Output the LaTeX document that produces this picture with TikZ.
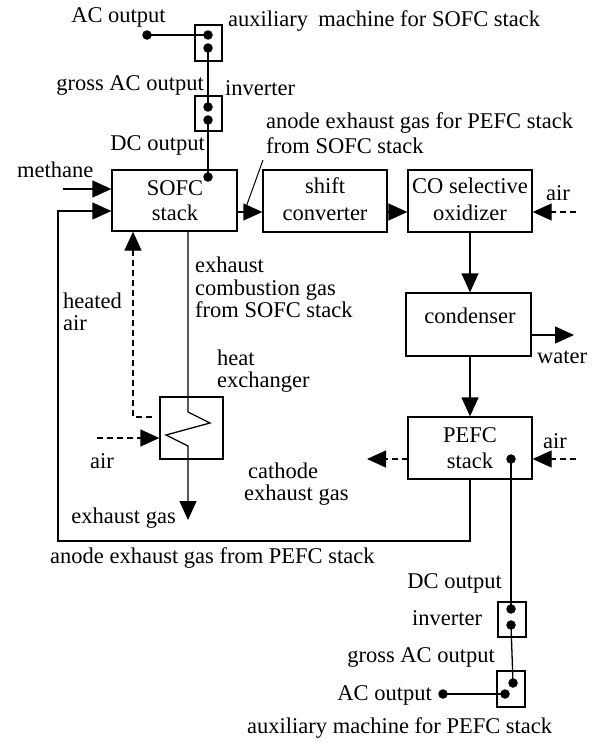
\documentclass[tikz,border=0pt]{standalone}
\usepackage{fontspec}
\setmainfont{Liberation Serif}
\usetikzlibrary{arrows.meta,calc}
\begin{document}
\begin{tikzpicture}[x=1pt,y=-1pt,font=\fontsize{22.5}{22.5}\selectfont]
\tikzset{
 box/.style={draw,line width=1.3pt,inner sep=0pt},
 lbl/.style={inner sep=0pt,anchor=base west},
 lblr/.style={inner sep=0pt,anchor=base east},
 lblc/.style={inner sep=0pt,anchor=base},
 dot/.style={circle,fill,inner sep=0pt,minimum size=9.5pt},
 wire/.style={line width=1.3pt},
 flow/.style={line width=1.3pt,-{Triangle[length=19pt,width=17pt]}},
 dflow/.style={flow,dash pattern=on 6pt off 4pt},
}
\useasboundingbox (0,0) rectangle (599,744);

% boxes
\node[box,minimum width=125pt,minimum height=61pt] (sofc) at (174.5,200.5) {};
\node[box,minimum width=124pt,minimum height=62pt] (shift) at (325,201) {};
\node[box,minimum width=124pt,minimum height=62pt] (co) at (470,201) {};
\node[box,minimum width=125pt,minimum height=63pt] (cond) at (468.5,324.5) {};
\node[box,minimum width=124pt,minimum height=62pt] (pefc) at (470,448) {};
\node[box,minimum width=63pt,minimum height=62pt] (hx) at (191.5,428) {};
\node[box,minimum width=27pt,minimum height=36pt] (aux1) at (208.5,43) {};
\node[box,minimum width=27pt,minimum height=35pt] (inv1) at (208.5,113.5) {};
\node[box,minimum width=28pt,minimum height=35pt] (inv2) at (512,619.5) {};
\node[box,minimum width=28pt,minimum height=36pt] (aux2) at (511,689) {};

% box texts
\node[lblc] (t_sofc1) at (175,195) {SOFC};
\node[lblc] (t_sofc2) at (175,220) {stack};
\node[lblc] (t_shift1) at (325,193) {shift};
\node[lblc] (t_shift2) at (325,220) {converter};
\node[lblc] (t_co1) at (470,193) {CO selective};
\node[lblc] (t_co2) at (470,220) {oxidizer};
\node[lblc] (t_cond) at (470,323) {condenser};
\node[lblc] (t_pefc1) at (470,442) {PEFC};
\node[lblc] (t_pefc2) at (470,468) {stack};

% dots
\node[dot] (acdot1) at (147,35) {};
\node[dot] (aux1a) at (208,35) {};
\node[dot] (aux1b) at (208,48) {};
\node[dot] (inv1a) at (208,107) {};
\node[dot] (inv1b) at (208,120) {};
\node[dot] (sofcdot) at (208,177) {};
\node[dot] (pefcdot) at (511,459) {};
\node[dot] (inv2a) at (511,609) {};
\node[dot] (inv2b) at (511,625) {};
\node[dot] (aux2a) at (513,683) {};
\node[dot] (aux2b) at (505,694) {};
\node[dot] (acdot2) at (443,694) {};

% electrical wires
\draw[wire] (acdot1.center) -- (aux1a.center);
\draw[wire] (aux1b.center) -- (inv1a.center);
\draw[wire] (inv1b.center) -- (sofcdot.center);
\draw[wire] (pefcdot.center) -- (inv2a.center);
\draw[wire] (inv2b.center) -- (aux2a.center);
\draw[wire] (acdot2.center) -- (aux2b.center);

% gas flows
\coordinate (meth0) at (63,189);
\draw[flow] (meth0) -- (meth0 -| sofc.west);
\coordinate (loopb) at (58,541);
\coordinate (loopin) at (58,211);
\draw[flow] (pefc.south) |- (loopb) -- (loopin) -- (loopin -| sofc.west);
\coordinate (s2s) at (237,212);
\draw[flow] (s2s) -- (s2s -| shift.west);
\coordinate (s2c) at (387,212);
\draw[flow] (s2c) -- (s2c -| co.west);
\coordinate (coair) at (576,212);
\draw[dflow] (coair) -- (coair -| co.east);
\draw[flow] (co.south) -- (co.south |- cond.north);
\coordinate (wat0) at (531,335);
\coordinate (wat1) at (574,335);
\draw[flow] (wat0) -- (wat1);
\draw[flow] (cond.south -| co.south) -- (pefc.north);
\coordinate (pair) at (576,459);
\draw[dflow] (pair) -- (pair -| pefc.east);
\coordinate (pcat0) at (408,459);
\coordinate (pcat1) at (367,459);
\draw[dflow] (pcat0) -- (pcat1);

% heat exchanger
\coordinate (ex0) at (188,231);
\coordinate (ex1) at (188,412);
\coordinate (ex2) at (210,423);
\coordinate (ex3) at (166,435);
\coordinate (ex4) at (188,446);
\coordinate (ex5) at (188,520);
\draw[flow] (ex0) -- (ex1) -- (ex2) -- (ex3) -- (ex4) -- (ex5);
\coordinate (ha0) at (152,417);
\coordinate (ha1) at (133,417);
\draw[dflow] (ha0) -- (ha1) -- (ha1 |- sofc.south);
\coordinate (hxair) at (97,438);
\draw[dflow] (hxair) -- (hxair -| hx.west);

% leader
\coordinate (ld0) at (245,210);
\coordinate (ld1) at (263,160);
\draw[line width=1pt] (ld0) -- (ld1);

% labels
\node[lblc] (l_ac1) at (118.5,23) {AC output};
\node[lbl] (l_aux1) at (228,26) {auxiliary\hspace{0.45em}machine for SOFC stack};
\node[lblr] (l_gross1) at (204,90) {gross AC output};
\node[lbl] (l_inv1) at (225,95) {inverter};
\node[lblr] (l_dc1) at (205,150) {DC output};
\node[lbl] (l_meth) at (17,177) {methane};
\node[lbl] (l_an1) at (266,128) {anode exhaust gas for PEFC stack};
\node[lbl] (l_an2) at (266,153) {from SOFC stack};
\node[lblc] (l_coair) at (558,200) {air};
\node[lbl] (l_ex1) at (195,272) {exhaust};
\node[lbl] (l_ex2) at (195,295) {combustion gas};
\node[lbl] (l_ex3) at (195,317) {from SOFC stack};
\node[lbl] (l_ha1) at (63,308) {heated};
\node[lbl] (l_ha2) at (63,330) {air};
\node[lbl] (l_hx1) at (217,365) {heat};
\node[lbl] (l_hx2) at (217,387) {exchanger};
\node[lblc] (l_hxair) at (102,468) {air};
\node[lblr] (l_exg) at (176,523) {exhaust gas};
\node[lbl] (l_anp) at (50,563) {anode exhaust gas from PEFC stack};
\node[lblc] (l_water) at (562,363) {water};
\node[lblc] (l_pair) at (555,448) {air};
\node[lbl] (l_cat1) at (248,478) {cathode};
\node[lbl] (l_cat2) at (244,500) {exhaust gas};
\node[lblr] (l_dc2) at (502,588) {DC output};
\node[lbl] (l_inv2) at (412,625) {inverter};
\node[lblr] (l_gross2) at (495,662) {gross AC output};
\node[lblr] (l_ac2) at (432,700) {AC output};
\node[lbl] (l_aux2) at (247,733) {auxiliary machine for PEFC stack};
\end{tikzpicture}
\end{document}
